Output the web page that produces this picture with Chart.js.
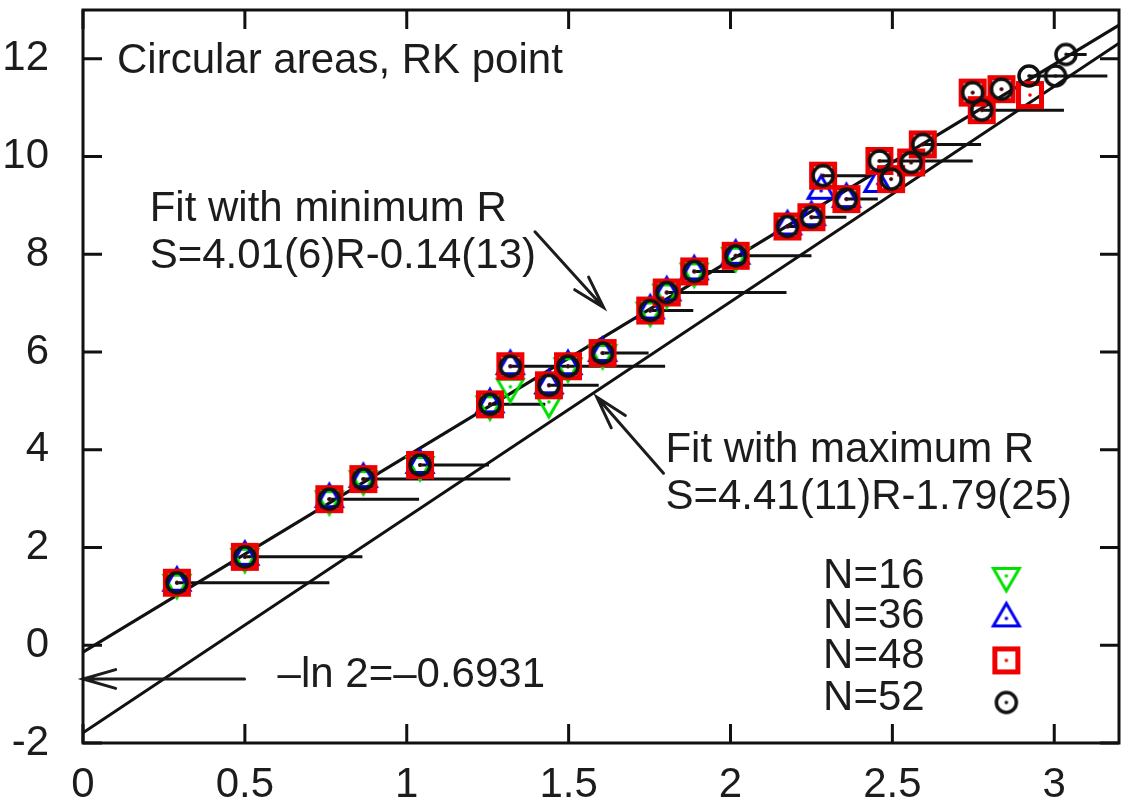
<!DOCTYPE html>
<html>
<head>
<meta charset="utf-8">
<title>Circular areas, RK point</title>
<script src="https://cdn.jsdelivr.net/npm/chart.js@4.4.1/dist/chart.umd.min.js"></script>
<style>
  html, body { margin: 0; padding: 0; background: #fff; }
  #wrap { width: 1123px; height: 800px; position: relative; }
</style>
</head>
<body>
<div id="wrap"><canvas id="chart"></canvas></div>
<script>
/* ---------- data ---------- */
const X_TICKS = [0, 0.5, 1, 1.5, 2, 2.5, 3];
const Y_TICKS = [-2, 0, 2, 4, 6, 8, 10, 12];

// N=16, down triangles
const N16_R = [0.29, 0.50, 0.761, 0.866, 1.041, 1.257, 1.32, 1.439, 1.498, 1.605, 1.752, 1.803, 1.888, 2.016];
const N16_S = [1.28, 1.81, 2.99, 3.40, 3.69, 4.93, 5.29, 4.98, 5.71, 5.98, 6.85, 7.22, 7.65, 7.97];

// N=36, up triangles
const N36_R = [0.29, 0.50, 0.761, 0.866, 1.041, 1.257, 1.32, 1.439, 1.498, 1.605, 1.752, 1.803, 1.888, 2.016, 2.176, 2.25, 2.28, 2.358, 2.455];
const N36_S = [1.28, 1.81, 2.99, 3.40, 3.69, 4.93, 5.71, 5.32, 5.71, 5.98, 6.85, 7.22, 7.65, 7.97, 8.57, 8.76, 9.30, 9.13, 9.44];

// N=48, squares
const N48_R = [0.29, 0.50, 0.761, 0.866, 1.041, 1.257, 1.32, 1.439, 1.498, 1.605, 1.752, 1.803, 1.888, 2.016, 2.176, 2.25,
               2.286, 2.358, 2.46, 2.496, 2.558, 2.594, 2.748, 2.776, 2.837, 2.925];
const N48_S = [1.28, 1.81, 2.99, 3.40, 3.69, 4.93, 5.71, 5.32, 5.71, 5.98, 6.85, 7.22, 7.65, 7.97, 8.57, 8.76,
               9.61, 9.13, 9.91, 9.54, 9.88, 10.25, 11.31, 10.95, 11.38, 11.26];

// N=52, circles
const N52_R = [0.29, 0.50, 0.761, 0.866, 1.041, 1.257, 1.32, 1.439, 1.498, 1.605, 1.752, 1.803, 1.888, 2.016, 2.176, 2.25,
               2.286, 2.358, 2.46, 2.496, 2.558, 2.594, 2.748, 2.776, 2.837, 2.922, 3.004, 3.036];
const N52_S = [1.28, 1.81, 2.99, 3.40, 3.69, 4.93, 5.71, 5.32, 5.71, 5.98, 6.85, 7.22, 7.65, 7.97, 8.57, 8.76,
               9.61, 9.13, 9.91, 9.54, 9.88, 10.25, 11.31, 10.95, 11.38, 11.65, 11.65, 12.09];

// R ranges (min R -> max R) drawn as horizontal bars
const RANGE_S  = [1.28, 1.81, 2.99, 3.40, 3.69, 4.93, 5.71, 5.32, 5.98, 6.85, 7.22, 7.65, 7.97, 8.57, 8.76, 9.61, 9.13, 9.91, 10.25, 10.95, 11.65, 12.09];
const RANGE_R0 = [0.29, 0.50, 0.761, 0.866, 1.041, 1.257, 1.32, 1.439, 1.605, 1.752, 1.803, 1.888, 2.016, 2.176, 2.25, 2.286, 2.358, 2.46, 2.594, 2.776, 2.922, 3.036];
const RANGE_R1 = [0.761, 0.863, 1.038, 1.32, 1.254, 1.428, 1.798, 1.593, 1.747, 1.885, 2.173, 2.015, 2.25, 2.25, 2.358, 2.43, 2.455, 2.748, 2.774, 3.03, 3.164, 3.10];

// fitted lines, end points at R=0 and R=3.2
const FIT_R     = [0, 3.2];
const FIT_MIN_S = [-0.14, 12.69];   // S=4.01(6)R-0.14(13)
const FIT_MAX_S = [-1.79, 12.32];   // S=4.41(11)R-1.79(25)

const SERIES_NAMES = ['N=16', 'N=36', 'N=48', 'N=52'];

/* ---------- look ---------- */
const INK = '#1c1c1c';
const FONT = '"Liberation Sans", Arial, Helvetica, sans-serif';
const FONT_SIZE = 42;

Chart.defaults.font.family = FONT;
Chart.defaults.font.size = FONT_SIZE;
Chart.defaults.color = INK;

/* point markers: open symbol with a centre dot (gnuplot style) */
function makeMarker(kind, color) {
  const size = 44;
  const c = document.createElement('canvas');
  c.width = size; c.height = size;
  const g = c.getContext('2d');
  const m = size / 2;
  g.strokeStyle = color;
  g.fillStyle = color;
  g.lineJoin = 'miter';
  if (kind === 'circle') {
    g.lineWidth = 3.5;
    g.beginPath(); g.arc(m, m, 10, 0, Math.PI * 2); g.stroke();
  } else if (kind === 'square') {
    g.lineWidth = 5;
    g.strokeRect(m - 11.5, m - 11.5, 23, 23);
  } else {
    const R = 15, dir = kind === 'up' ? 1 : -1;
    g.lineWidth = 3;
    g.beginPath();
    g.moveTo(m, m - dir * R);
    g.lineTo(m + R * 0.866, m + dir * R * 0.5);
    g.lineTo(m - R * 0.866, m + dir * R * 0.5);
    g.closePath();
    g.stroke();
  }
  g.beginPath(); g.arc(m, m, 1.8, 0, Math.PI * 2); g.fill();
  return c;
}

const MARKERS = [
  makeMarker('down', '#00e000'),
  makeMarker('up', '#0000f0'),
  makeMarker('square', '#f00000'),
  makeMarker('circle', '#111111'),
];

const zip = (rs, ss) => rs.map((r, i) => ({ x: r, y: ss[i] }));

function rangeSegments() {
  const pts = [];
  RANGE_S.forEach((s, i) => {
    pts.push({ x: RANGE_R0[i], y: s }, { x: RANGE_R1[i], y: s }, { x: RANGE_R1[i], y: null });
  });
  return pts;
}

/* ---------- annotations (placed in data coordinates) ---------- */
const LABELS = [
  { text: 'Circular areas, RK point', x: 0.105, y: 11.71 },
  { text: 'Fit with minimum R',       x: 0.206, y: 8.69 },
  { text: 'S=4.01(6)R-0.14(13)',      x: 0.206, y: 7.73 },
  { text: 'Fit with maximum R',       x: 1.799, y: 3.75 },
  { text: 'S=4.41(11)R-1.79(25)',     x: 1.799, y: 2.79 },
  { text: '\u2013ln 2=\u20130.6931',  x: 0.601, y: -0.86 },
];
const ARROWS = [
  { from: [1.396, 8.46], to: [1.608, 6.91] },
  { from: [1.793, 3.52], to: [1.587, 5.08] },
  { from: [0.499, -0.69], to: [0, -0.69] },
];
const LEGEND_POS = { textX: 2.286, markX: 2.852, textY: [1.18, 0.36, -0.47, -1.33], markY: [1.42, 0.55, -0.31, -1.17] };

const annotations = {
  id: 'annotations',
  afterDatasetsDraw(chart) {
    const { ctx, scales: { x, y } } = chart;
    ctx.save();
    ctx.fillStyle = INK;
    ctx.strokeStyle = INK;
    ctx.font = `${FONT_SIZE}px ${FONT}`;
    ctx.textAlign = 'left';
    ctx.textBaseline = 'alphabetic';
    LABELS.forEach(l => ctx.fillText(l.text, x.getPixelForValue(l.x), y.getPixelForValue(l.y)));

    ctx.lineWidth = 3;
    ctx.lineCap = 'round';
    ARROWS.forEach(a => {
      const x0 = x.getPixelForValue(a.from[0]), y0 = y.getPixelForValue(a.from[1]);
      const x1 = x.getPixelForValue(a.to[0]),   y1 = y.getPixelForValue(a.to[1]);
      const ang = Math.atan2(y0 - y1, x0 - x1);
      const len = 34, spread = 0.28;
      ctx.beginPath();
      ctx.moveTo(x0, y0); ctx.lineTo(x1, y1);
      ctx.moveTo(x1 + len * Math.cos(ang - spread), y1 + len * Math.sin(ang - spread));
      ctx.lineTo(x1, y1);
      ctx.lineTo(x1 + len * Math.cos(ang + spread), y1 + len * Math.sin(ang + spread));
      ctx.stroke();
    });

    // key
    SERIES_NAMES.forEach((name, i) => {
      ctx.fillText(name, x.getPixelForValue(LEGEND_POS.textX), y.getPixelForValue(LEGEND_POS.textY[i]));
      const m = MARKERS[i];
      ctx.drawImage(m, x.getPixelForValue(LEGEND_POS.markX) - m.width / 2, y.getPixelForValue(LEGEND_POS.markY[i]) - m.height / 2);
    });
    ctx.restore();
  },
  afterDraw(chart) {
    // frame + inward ticks on all four sides
    const { ctx, chartArea: a, scales: { x, y } } = chart;
    const tl = 19;
    ctx.save();
    ctx.strokeStyle = '#111';
    ctx.lineWidth = 3;
    ctx.strokeRect(a.left, a.top, a.right - a.left, a.bottom - a.top);
    ctx.beginPath();
    X_TICKS.forEach(v => {
      const px = x.getPixelForValue(v);
      ctx.moveTo(px, a.bottom); ctx.lineTo(px, a.bottom - tl);
      ctx.moveTo(px, a.top);    ctx.lineTo(px, a.top + tl);
    });
    Y_TICKS.forEach(v => {
      const py = y.getPixelForValue(v);
      ctx.moveTo(a.left, py);  ctx.lineTo(a.left + tl, py);
      ctx.moveTo(a.right, py); ctx.lineTo(a.right - tl, py);
    });
    ctx.stroke();
    ctx.restore();
  }
};

/* ---------- chart ---------- */
const markerSet = (label, rs, ss, i, order) => ({
  label, data: zip(rs, ss),
  pointStyle: MARKERS[i], pointRadius: 12, pointHoverRadius: 12,
  showLine: false, order,
});

// scales reserve room for half a tick label at each end; the frame is fixed here, so drop it
const noEdgePadding = s => { s.paddingTop = 0; s.paddingBottom = 0; s.paddingLeft = 0; s.paddingRight = 0; };

new Chart(document.getElementById('chart'), {
  type: 'scatter',
  data: {
    datasets: [
      markerSet('N=52', N52_R, N52_S, 3, 1),
      markerSet('N=48', N48_R, N48_S, 2, 2),
      markerSet('N=36', N36_R, N36_S, 1, 3),
      markerSet('N=16', N16_R, N16_S, 0, 4),
      { label: 'R range', data: rangeSegments(), showLine: true, spanGaps: false,
        borderColor: '#111', borderWidth: 3, pointRadius: 0, order: 5 },
      { label: 'Fit with minimum R', data: zip(FIT_R, FIT_MIN_S), showLine: true,
        borderColor: '#111', borderWidth: 3, pointRadius: 0, order: 6 },
      { label: 'Fit with maximum R', data: zip(FIT_R, FIT_MAX_S), showLine: true,
        borderColor: '#111', borderWidth: 3, pointRadius: 0, order: 6 },
    ]
  },
  options: {
    responsive: true,
    maintainAspectRatio: false,
    animation: false,
    events: [],
    layout: { autoPadding: false, padding: { top: 10, right: 4, left: 0, bottom: 0 } },
    plugins: { legend: { display: false }, tooltip: { enabled: false } },
    scales: {
      x: {
        type: 'linear', min: 0, max: 3.2,
        afterBuildTicks: s => { s.ticks = X_TICKS.map(v => ({ value: v })); },
        afterFit: s => { s.height = 57; noEdgePadding(s); },
        grid: { display: false },
        border: { display: false },
        ticks: { padding: 9, color: INK, maxRotation: 0, callback: v => String(v) }
      },
      y: {
        type: 'linear', min: -2, max: 13,
        afterBuildTicks: s => { s.ticks = Y_TICKS.map(v => ({ value: v })); },
        afterFit: s => { s.width = 83; noEdgePadding(s); },
        grid: { display: false },
        border: { display: false },
        ticks: { padding: 26, color: INK, callback: v => String(v) }
      }
    }
  },
  plugins: [annotations]
});
</script>
</body>
</html>
